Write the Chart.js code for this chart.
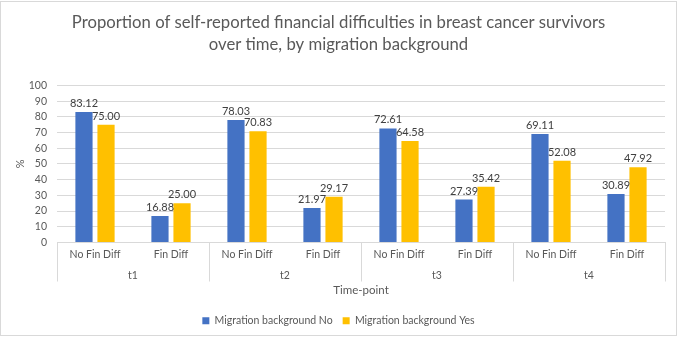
<!DOCTYPE html>
<html>
<head>
<meta charset="utf-8">
<script src="https://cdn.jsdelivr.net/npm/chart.js@4.4.1/dist/chart.umd.min.js"></script>
<style>
  html, body { margin: 0; padding: 0; background: #fff; }
  #frame {
    position: absolute; left: 0; top: 1px;
    width: 675px; height: 333px;
    border: 1px solid #d9d9d9;
  }
  #wrap { position: absolute; left: 0; top: 0; width: 679px; height: 337px; }
</style>
</head>
<body>
<div id="frame"></div>
<div id="wrap"><canvas id="chart" width="679" height="337"></canvas></div>
<script>
// sub categories (one per bar group) and the time-points they belong to
var subLabels = ['No Fin Diff', 'Fin Diff', 'No Fin Diff', 'Fin Diff', 'No Fin Diff', 'Fin Diff', 'No Fin Diff', 'Fin Diff'];
var timePoints = ['t1', 't2', 't3', 't4'];

var migrationNo = [83.12, 16.88, 78.03, 21.97, 72.61, 27.39, 69.11, 30.89];
var migrationYes = [75.00, 25.00, 70.83, 29.17, 64.58, 35.42, 52.08, 47.92];

var yTicks = [0, 10, 20, 30, 40, 50, 60, 70, 80, 90, 100];

var textColor = '#595959';
var gridColor = '#d9d9d9';
var fontFamily = 'Lato, "Noto Sans", sans-serif';

// value labels above each bar
var barValueLabels = {
  id: 'barValueLabels',
  afterDatasetsDraw: function(chart) {
    var ctx = chart.ctx;
    ctx.save();
    ctx.font = '11px ' + fontFamily;
    ctx.fillStyle = '#404040';
    ctx.textAlign = 'center';
    ctx.textBaseline = 'bottom';
    chart.data.datasets.forEach(function(ds, i) {
      var meta = chart.getDatasetMeta(i);
      meta.data.forEach(function(bar, j) {
        ctx.fillText(ds.data[j].toFixed(2), bar.x, bar.y - 3);
      });
    });
    ctx.restore();
  }
};

// vertical separators between time-points, under the axis
var groupSeparators = {
  id: 'groupSeparators',
  afterDraw: function(chart) {
    var sx = chart.scales.x;
    var ctx = chart.ctx;
    var step = sx.width / timePoints.length;
    var bottom = chart.chartArea.bottom;
    ctx.save();
    ctx.strokeStyle = gridColor;
    ctx.lineWidth = 1;
    for (var i = 0; i <= timePoints.length; i++) {
      var x = Math.round(sx.left + i * step) + 0.5;
      ctx.beginPath();
      ctx.moveTo(x, bottom);
      ctx.lineTo(x, bottom + 39);
      ctx.stroke();
    }
    ctx.restore();
  }
};

var ctx = document.getElementById('chart').getContext('2d');
var chart = new Chart(ctx, {
  type: 'bar',
  data: {
    labels: subLabels,
    datasets: [
      {
        label: 'Migration background No',
        data: migrationNo,
        backgroundColor: '#4472C4'
      },
      {
        label: 'Migration background Yes',
        data: migrationYes,
        backgroundColor: '#FFC000'
      }
    ]
  },
  options: {
    responsive: false,
    animation: false,
    devicePixelRatio: 1,
    categoryPercentage: 0.58,
    barPercentage: 0.78,
    layout: { padding: { left: 12, right: 14, top: 6, bottom: 1 } },
    scales: {
      y: {
        min: 0,
        max: 100,
        afterBuildTicks: function(axis) {
          axis.ticks = yTicks.map(function(v) { return { value: v }; });
        },
        afterFit: function(axis) { axis.width = 45; },
        grid: { color: gridColor, drawTicks: false },
        border: { display: false },
        ticks: { color: textColor, font: { family: fontFamily, size: 10.5 }, padding: 10, autoSkip: false },
        title: { display: true, text: '%', color: textColor, font: { family: fontFamily, size: 11 }, padding: { top: 2, bottom: 2 } }
      },
      x: {
        grid: { display: false, drawTicks: false },
        border: { display: true, color: gridColor },
        ticks: { color: textColor, font: { family: fontFamily, size: 10.5 }, padding: 6, maxRotation: 0, autoSkip: false }
      },
      group: {
        type: 'category',
        labels: timePoints,
        position: 'bottom',
        offset: true,
        grid: { display: false, drawTicks: false },
        border: { display: false },
        ticks: { color: textColor, font: { family: fontFamily, size: 10.5 }, padding: 2 },
        title: { display: true, text: 'Time-point', color: textColor, font: { family: fontFamily, size: 11.5 }, padding: { top: 0, bottom: 8 } }
      }
    },
    plugins: {
      title: {
        display: true,
        text: ['Proportion of self-reported financial difficulties in breast cancer survivors', 'over time, by migration background'],
        color: textColor,
        font: { family: fontFamily, size: 16.7, weight: 'normal', lineHeight: 1.3 },
        padding: { top: 6, bottom: 30 }
      },
      legend: {
        position: 'bottom',
        labels: { color: textColor, font: { family: fontFamily, size: 10.5 }, boxWidth: 7, boxHeight: 7, padding: 10 }
      },
      tooltip: { enabled: false }
    }
  },
  plugins: [barValueLabels, groupSeparators]
});
</script>
</body>
</html>
